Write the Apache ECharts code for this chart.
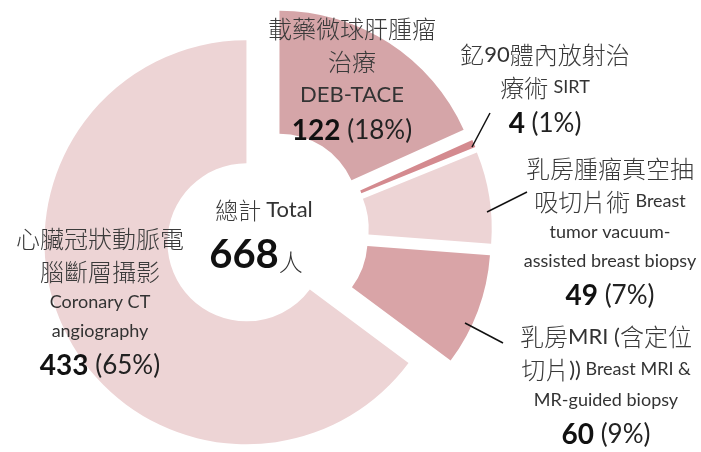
<!DOCTYPE html>
<html><head><meta charset="utf-8">
<script src="https://cdn.jsdelivr.net/npm/echarts@6/dist/echarts.min.js"></script>
<style>html,body{margin:0;padding:0;background:#fff}#c{width:701px;height:452px}</style>
</head><body><div id="c"></div>
<script>
// Data (clockwise from 12 o'clock)
const categories = ['DEB-TACE', 'SIRT', 'Breast tumor vacuum-assisted breast biopsy', 'Breast MRI & MR-guided biopsy', 'Coronary CT angiography'];
const values = [122, 4, 49, 60, 433];
const labelLines = [
  ['{zh|載藥微球肝腫瘤}', '{zh|治療}', '{enL|DEB-TACE}'],
  ['{zh|釔}{enL|90}{zh|體內放射治}', '{zh|療術 }{en|SIRT}'],
  ['{zh|乳房腫瘤真空抽}', '{zh|吸切片術 }{en|Breast}', '{en|tumor vacuum-}', '{en|assisted breast biopsy}'],
  ['{zh|乳房}{enL|MRI (}{zh|含定位}', '{zh|切片}{enL|))}{en| Breast MRI &}', '{en|MR-guided biopsy}'],
  ['{zh|心臟冠狀動脈電}', '{zh|腦斷層攝影}', '{en|Coronary CT}', '{en|angiography}']
];
const totalLabel = ['總計', 'Total', '人'];
const colors = ['#d5a5a8', '#d48a8f', '#edd4d5', '#d9a4a7', '#edd4d5'];

const total = values.reduce((a, b) => a + b, 0);
const labelPos = [
  {x: 352, y: 12},
  {x: 545, y: 38},
  {x: 610, y: 152},
  {x: 606, y: 320},
  {x: 100, y: 222}
];
const leaders = [null, [[472,147],[481,130],[490,113]], [[487,212],[507,202],[527,192]], [[465,323],[484,333],[503,343]], null];

const chart = echarts.init(document.getElementById('c'));
const cjk = '"Noto Sans CJK TC", "Noto Sans CJK SC", sans-serif';
const lat = 'Lato, "Noto Sans", sans-serif';
const common = {
  type: 'pie',
  center: [267, 232],
  radius: [79, 202],
  startAngle: 90,
  clockwise: true,
  avoidLabelOverlap: false,
  emphasis: {disabled: true}
};
chart.setOption({
  animation: false,
  title: {
    text: '{a|' + totalLabel[0] + '} {b|' + totalLabel[1] + '}\n{c|' + total + '}{d|' + totalLabel[2] + '}',
    left: 259, top: 186, textAlign: 'center',
    textStyle: {
      rich: {
        a: {fontFamily: cjk, fontSize: 23, fontWeight: 300, color: '#3a3a3a', lineHeight: 38},
        b: {fontFamily: lat, fontSize: 22, fontWeight: 'normal', color: '#333', lineHeight: 38},
        c: {fontFamily: lat, fontSize: 40, fontWeight: 'bold', color: '#111', lineHeight: 52},
        d: {fontFamily: cjk, fontSize: 24, fontWeight: 300, color: '#333', lineHeight: 52, padding: [14, 16, 0, 0]}
      }
    }
  },
  series: [
    Object.assign({}, common, {
      selectedMode: 'multiple',
      selectedOffset: 23,
      select: {itemStyle: {borderWidth: 0}},
      label: {show: false},
      labelLine: {show: false},
      data: values.map((v, i) => ({
        name: categories[i], value: v, selected: true,
        itemStyle: {color: colors[i]},
        select: {itemStyle: {color: colors[i]}}
      }))
    }),
    Object.assign({}, common, {
      silent: true,
      z: 5,
      itemStyle: {color: 'rgba(0,0,0,0)'},
      data: values.map((v, i) => ({
        name: categories[i], value: v,
        labelLine: {show: leaders[i] !== null}
      })),
      label: {
        show: true,
        position: 'outside',
        formatter: p => labelLines[p.dataIndex].join('\n') + '\n{num|' + p.value + '}{pct| (' + Math.round(p.percent) + '%)}',
        rich: {
          zh: {fontFamily: cjk, fontSize: 24, fontWeight: 300, color: '#3a3a3a', lineHeight: 33},
          enL: {fontFamily: lat, fontSize: 22, color: '#333', lineHeight: 33},
          en: {fontFamily: lat, fontSize: 18, color: '#333', lineHeight: 29},
          num: {fontFamily: lat, fontSize: 28, fontWeight: 'bold', color: '#111', lineHeight: 40},
          pct: {fontFamily: lat, fontSize: 26, color: '#222', lineHeight: 40}
        }
      },
      labelLine: {lineStyle: {color: '#111', width: 1.5}},
      labelLayout: p => {
        const o = {x: labelPos[p.dataIndex].x, y: labelPos[p.dataIndex].y, align: 'center', verticalAlign: 'top'};
        if (leaders[p.dataIndex]) o.labelLinePoints = leaders[p.dataIndex];
        return o;
      }
    })
  ]
});
</script></body></html>
